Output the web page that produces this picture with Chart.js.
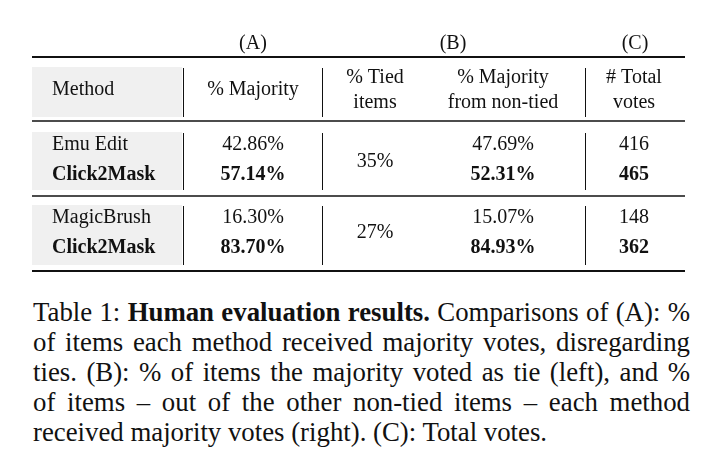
<!DOCTYPE html>
<html>
<head>
<meta charset="utf-8">
<script src="https://cdn.jsdelivr.net/npm/chart.js@4"></script>
<style>
  body { margin: 0; background: #fff; }
  #wrap { position: relative; width: 718px; height: 290px; }
  #caption {
    position: absolute; left: 33px; top: 297px; width: 657px;
    font-family: "Liberation Serif", "Times New Roman", serif;
    font-size: 26.8px; line-height: 30px; color: #111;
  }
  #caption span { display: block; white-space: nowrap; text-align: justify; text-align-last: justify; }
  #caption span.last { text-align-last: left; }
</style>
</head>
<body>
<div id="wrap"><canvas id="tbl"></canvas></div>
<div id="caption"><span>Table 1: <b>Human evaluation results.</b> Comparisons of (A): %</span>
<span>of items each method received majority votes, disregarding</span>
<span>ties. (B): % of items the majority voted as tie (left), and %</span>
<span>of items &ndash; out of the other non-tied items &ndash; each method</span>
<span class="last">received majority votes (right). (C): Total votes.</span></div>
<script>
// table content
var groups = ['(A)', '(B)', '(C)']
var headers = ['Method', '% Majority', '% Tied\nitems', '% Majority\nfrom non-tied', '# Total\nvotes']
var methods = ['Emu Edit', 'Click2Mask', 'MagicBrush', 'Click2Mask']
var majority = [42.86, 57.14, 16.30, 83.70]
var tied = [35, 27]
var majorityNonTied = [47.69, 52.31, 15.07, 84.93]
var totalVotes = [416, 465, 148, 362]
var isOurs = [false, true, false, true]

// layout (pixel units of the hidden scales)
var colX = [52, 253, 375, 503, 634]
var groupX = [253, 453, 635]
var groupY = 44
var headY = 90
var rowY = [145, 175, 218, 248]
var pairY = [162, 233]
var left = 32, right = 685
var colLines = [183, 322, 585]
var bands = [[67, 117], [132, 190], [205, 265]]
var rules = [[57, 2], [121, 1.4], [196, 1.4], [271, 2]]

var FONT = '"Liberation Serif", "Times New Roman", serif'
var pct = function (v) { return v.toFixed(2) + '%' }

function cells(xs, ys, texts, boldFlags, align) {
    return {
        data: texts.map(function (t, i) {
            return { x: xs[i], y: ys[i], text: String(t), bold: boldFlags ? boldFlags[i] : false }
        }),
        align: align || 'center',
        pointRadius: 0
    }
}

var rep = function (v, n) { var a = []; for (var i = 0; i < n; i++) a.push(v); return a }

var datasets = [
    cells(groupX, rep(groupY, 3), groups),
    cells(colX, rep(headY, 5), headers),
    cells(rep(colX[0], 4), rowY, methods, isOurs, 'left'),
    cells(rep(colX[1], 4), rowY, majority.map(pct), isOurs),
    cells(rep(colX[2], 2), pairY, tied.map(function (v) { return v + '%' })),
    cells(rep(colX[3], 4), rowY, majorityNonTied.map(pct), isOurs),
    cells(rep(colX[4], 4), rowY, totalVotes, isOurs)
]
datasets[1].data[0].align = 'left'

var tablePlugin = {
    id: 'tablePlugin',
    beforeDatasetsDraw: function (chart) {
        var ctx = chart.ctx, sx = chart.scales.x, sy = chart.scales.y
        ctx.save()
        // gray method column
        ctx.fillStyle = '#f0f0f0'
        bands.forEach(function (b) {
            var x0 = sx.getPixelForValue(left), x1 = sx.getPixelForValue(colLines[0] - 1)
            var y0 = sy.getPixelForValue(b[0]), y1 = sy.getPixelForValue(b[1])
            ctx.fillRect(x0, y0, x1 - x0, y1 - y0)
        })
        // horizontal rules
        ctx.strokeStyle = '#111'
        rules.forEach(function (r) {
            ctx.lineWidth = r[1]
            ctx.beginPath()
            ctx.moveTo(sx.getPixelForValue(left), sy.getPixelForValue(r[0]))
            ctx.lineTo(sx.getPixelForValue(right), sy.getPixelForValue(r[0]))
            ctx.stroke()
        })
        // column dividers
        ctx.lineWidth = 1
        bands.forEach(function (b) {
            colLines.forEach(function (c) {
                ctx.beginPath()
                ctx.moveTo(sx.getPixelForValue(c) + 0.5, sy.getPixelForValue(b[0] + 1))
                ctx.lineTo(sx.getPixelForValue(c) + 0.5, sy.getPixelForValue(b[1]))
                ctx.stroke()
            })
        })
        ctx.restore()
    },
    afterDatasetsDraw: function (chart) {
        var ctx = chart.ctx
        ctx.save()
        ctx.fillStyle = '#111'
        ctx.textBaseline = 'middle'
        chart.data.datasets.forEach(function (ds, i) {
            var meta = chart.getDatasetMeta(i)
            meta.data.forEach(function (el, k) {
                var d = ds.data[k]
                ctx.font = (d.bold ? 'bold ' : '') + '20px ' + FONT
                ctx.textAlign = d.align || ds.align
                var lines = d.text.split('\n')
                var lh = 25
                lines.forEach(function (ln, m) {
                    var off = (m - (lines.length - 1) / 2) * lh
                    ctx.fillText(ln, el.x, el.y + off)
                })
            })
        })
        ctx.restore()
    }
}

var chart = new Chart(document.getElementById('tbl'), {
    type: 'scatter',
    data: { datasets: datasets },
    options: {
        responsive: true,
        maintainAspectRatio: false,
        animation: false,
        events: [],
        layout: { padding: 0 },
        plugins: { legend: { display: false }, tooltip: { enabled: false } },
        scales: {
            x: { type: 'linear', min: 0, max: 718, display: false },
            y: { type: 'linear', min: 0, max: 290, reverse: true, display: false }
        }
    },
    plugins: [tablePlugin]
})
</script>
</body>
</html>
